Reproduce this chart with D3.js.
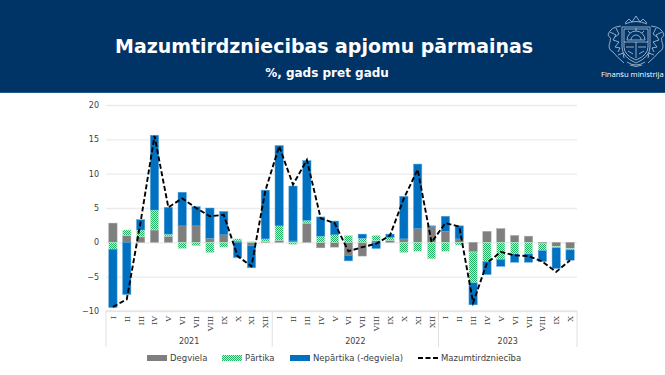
<!DOCTYPE html>
<html>
<head>
<meta charset="UTF-8">
<title>Mazumtirdzniecibas apjomu pārmaiņas</title>
<script src="https://d3js.org/d3.v7.min.js"></script>
<style>
  html, body { margin: 0; padding: 0; background: #fff; }
  svg { display: block; }
  text { font-family: "DejaVu Sans", Verdana, sans-serif; }
</style>
</head>
<body>
<svg id="chart" width="665" height="375"></svg>
<script>
// values, one entry per month
var months = ["I","II","III","IV","V","VI","VII","VIII","IX","X","XI","XII",
              "I","II","III","IV","V","VI","VII","VIII","IX","X","XI","XII",
              "I","II","III","IV","V","VI","VII","VIII","IX","X"];
var years = ["2021","2022","2023"];
var yearLengths = [12, 12, 10];
var degviela = [2.8,1.0,0.8,1.8,0.9,2.4,2.4,0.6,1.1,0.2,-0.5,0.1,
                0.3,0.2,2.8,-0.8,-0.7,-1.9,-2.0,0.25,0.3,0.5,2.0,2.3,
                1.6,0.5,-1.4,1.6,2.0,1.0,0.9,-0.2,-0.6,-0.9];
var partika = [-1.0,0.8,1.0,2.9,0.3,-0.9,-0.5,-1.5,-0.7,0.3,0.1,0.4,
               2.1,-0.3,0.4,0.9,1.1,1.0,0.6,0.75,0.4,-1.5,-1.3,-2.4,
               -1.3,-0.4,-4.5,-2.8,-2.5,-1.7,-1.7,-1.0,-0.2,-0.2];
var nepartika = [-8.5,-7.6,1.5,10.9,3.9,4.9,2.8,4.4,3.4,-2.2,-3.2,7.1,
                 11.7,8.0,8.7,2.8,2.0,-0.8,0.6,-0.9,0.5,6.2,9.4,0.1,
                 2.2,1.9,-3.2,-1.9,-1.0,-1.2,-1.2,-1.6,-3.0,-1.5];
var mazum = [-9.4,-8.3,3.0,15.5,5.1,6.4,5.0,3.8,4.0,-2.0,-3.5,7.5,
             14.0,8.4,12.0,3.5,2.8,-1.3,-0.7,-0.2,1.0,6.4,10.6,0.0,
             2.8,2.3,-8.8,-3.0,-1.4,-1.9,-2.0,-2.8,-4.3,-2.6];
var yTicks = [-10,-5,0,5,10,15,20];
var legendLabels = ["Degviela","Pārtika","Nepārtika (-degviela)","Mazumtirdzniecība"];
var legendX = [147,222,290,418];

var svg = d3.select("#chart");
var defs = svg.append("defs");

// dithered green fill of the Pārtika series
var hatch = defs.append("pattern")
  .attr("id","hatch")
  .attr("width",2).attr("height",2)
  .attr("patternUnits","userSpaceOnUse");
hatch.append("rect").attr("width",2).attr("height",2).attr("fill","#c4f0d6");
hatch.append("rect").attr("width",1).attr("height",1).attr("fill","#22b566");
hatch.append("rect").attr("x",1).attr("y",1).attr("width",1).attr("height",1).attr("fill","#22b566");

// HEADER
svg.append("rect").attr("width",665).attr("height",93).attr("fill","#003366");
svg.append("rect").attr("y",92).attr("width",665).attr("height",1).attr("fill","#1f5a8c");
svg.append("text").attr("x",324).attr("y",53)
  .attr("text-anchor","middle").attr("font-size",18.95).attr("font-weight","bold").attr("fill","#fff")
  .text("Mazumtirdzniecibas apjomu pārmaiņas");
svg.append("text").attr("x",327).attr("y",77)
  .attr("text-anchor","middle").attr("font-size",12).attr("font-weight","bold").attr("fill","#fff")
  .text("%, gads pret gadu");

// crest, just a rough outline of the real one
var crest = svg.append("g").attr("transform","translate(636,41)")
  .attr("fill","none").attr("stroke","#b9c9da").attr("stroke-width",0.8);
crest.append("path").attr("d","M-14,-14 h28 v20 q0,10 -14,16 q-14,-6 -14,-16 Z");
crest.append("path").attr("d","M-12,-12 h24 v18 q0,8 -12,13 q-12,-5 -12,-13 Z");
crest.append("path").attr("d","M-9,-1 a9,9 0 0 1 18,0 Z M-5,-1 a5,5 0 0 1 10,0");
crest.append("path").attr("d","M0,-10 v-3 M-6,-8 l-2,-2 M6,-8 l2,-2 M-12,1 h24 M0,1 v16 M-10,6 l8,0 M2,6 l8,0 M-8,10 l5,3 M8,10 l-5,3");
crest.append("path").attr("d","M-11,-18 l4,-4 l3,3 l4,-6 l4,6 l3,-3 l4,4");
crest.append("path").attr("d","M-11,-17 q11,-5 22,0");
crest.append("path").attr("d","M-15,-15 q-11,1 -13,9 q4,3 2,7 q-3,7 3,10 q4,5 11,11 M15,-15 q11,1 13,9 q-4,3 -2,7 q3,7 -3,10 q-4,5 -11,11");
crest.append("path").attr("d","M-26,-9 l6,3 l-3,5 l6,2 l-4,5 l5,1 l-2,4 M26,-9 l-6,3 l3,5 l-6,2 l4,5 l-5,1 l2,4");
crest.append("path").attr("d","M-20,-13 l3,6 l-4,3 M20,-13 l-3,6 l4,3 M-18,14 l5,-2 l1,5 M18,14 l-5,-2 l-1,5");
crest.append("path").attr("d","M-9,21 q9,6 18,0 M-6,24 q6,3 12,0");

svg.append("text").attr("x",601).attr("y",77)
  .attr("font-size",7.6).attr("fill","#fff")
  .style("font-family","'Open Sans', sans-serif")
  .text("Finanšu ministrija");

// SCALES
var x = d3.scaleBand().domain(d3.range(months.length)).range([106,577]).paddingInner(0.4).paddingOuter(0.2);
var y = d3.scaleLinear().domain([-10,20]).range([311,105]);

// grid and y labels
svg.append("g").attr("class","y-axis")
  .attr("transform","translate(106,0)")
  .call(d3.axisLeft(y).tickValues(yTicks).tickSize(0).tickPadding(7))
  .call(function(g){ g.select(".domain").remove(); })
  .call(function(g){
    g.selectAll(".tick line").attr("x2",471).attr("stroke","#ebebeb").attr("stroke-width",1.3);
    g.selectAll(".tick text").attr("font-size",8).attr("fill","#404040").style("font-family","'DejaVu Sans', sans-serif");
  });

// stacked bars, positives up from zero and negatives down from zero
var seriesList = [
  {vals: degviela, fill: "#7f7f7f", edge: "#a8a8a8"},
  {vals: partika, fill: "url(#hatch)", edge: "#c4f0d6"},
  {vals: nepartika, fill: "#0070c0", edge: "#5ba6dc"}
];
var posBase = months.map(function(){ return 0; });
var negBase = months.map(function(){ return 0; });
seriesList.forEach(function(s){
  var rows = s.vals.map(function(v,i){
    var start = v >= 0 ? posBase[i] : negBase[i];
    var end = start + v;
    if (v >= 0) posBase[i] = end; else negBase[i] = end;
    return {i:i, start:start, end:end};
  });
  svg.append("g").selectAll("rect").data(rows).join("rect")
    .attr("x",function(d){ return x(d.i); })
    .attr("width",x.bandwidth())
    .attr("y",function(d){ return y(Math.max(d.start,d.end)); })
    .attr("height",function(d){ return Math.abs(y(d.start)-y(d.end)); })
    .attr("fill",s.fill)
    .attr("stroke",s.edge).attr("stroke-width",0.5);
});

// dashed total line
var line = d3.line()
  .x(function(d,i){ return x(i)+x.bandwidth()/2; })
  .y(function(d){ return y(d); });
svg.append("path").datum(mazum)
  .attr("d",line).attr("fill","none")
  .attr("stroke","#000").attr("stroke-width",1.9).attr("stroke-dasharray","5,2.5");

// month labels, rotated
svg.append("g").selectAll("text").data(months).join("text")
  .attr("transform",function(d,i){ return "translate("+(x(i)+x.bandwidth()/2+3)+",316) rotate(-90)"; })
  .attr("text-anchor","end")
  .attr("font-size",8).attr("fill","#404040")
  .style("font-family","'DejaVu Serif', serif")
  .text(function(d){ return d; });

// baseline, year separators and year labels
svg.append("line").attr("x1",106).attr("x2",577).attr("y1",311).attr("y2",311).attr("stroke","#e0e0e0");
var offset = 0;
var x0 = function(i){ return i >= months.length ? 577 : (i === 0 ? 106 : x(i)-x.step()*0.2); };
svg.append("line").attr("x1",106).attr("x2",106).attr("y1",311).attr("y2",347).attr("stroke","#e0e0e0");
years.forEach(function(yr,k){
  var a = x0(offset), b = x0(offset+yearLengths[k]);
  svg.append("line").attr("x1",b).attr("x2",b).attr("y1",311).attr("y2",347).attr("stroke","#e0e0e0");
  svg.append("text").attr("x",(a+b)/2).attr("y",344)
    .attr("text-anchor","middle").attr("font-size",8).attr("fill","#404040").text(yr);
  offset += yearLengths[k];
});

// LEGEND
var legend = svg.append("g").selectAll("g").data(legendLabels).join("g")
  .attr("transform",function(d,i){ return "translate("+legendX[i]+",358)"; });
legend.each(function(d,i){
  var g = d3.select(this);
  if (i < 3) {
    g.append("rect").attr("y",-3).attr("width",20).attr("height",6)
      .attr("fill",seriesList[i].fill);
  } else {
    g.append("line").attr("x2",20).attr("stroke","#000").attr("stroke-width",1.9).attr("stroke-dasharray","5,2.5");
  }
  g.append("text").attr("x",23).attr("y",3)
    .attr("font-size",8.5).attr("fill","#404040").text(d);
});
</script>
</body>
</html>
